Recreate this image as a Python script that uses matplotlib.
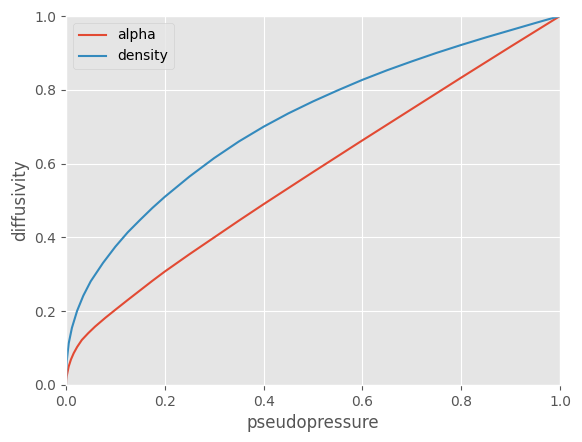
import matplotlib
matplotlib.use("Agg")
import matplotlib.pyplot as plt

plt.style.use("ggplot")

density_x = [0, 0.0004, 0.0015, 0.0055, 0.012, 0.0225, 0.035, 0.05, 0.075, 0.1,
             0.125, 0.15, 0.175, 0.2, 0.25, 0.3, 0.35, 0.4, 0.45, 0.5, 0.55,
             0.6, 0.65, 0.7, 0.75, 0.8, 0.85, 0.9, 0.95, 1.0]
density_y = [0, 0.035, 0.065, 0.113, 0.155, 0.201, 0.242, 0.281, 0.331, 0.375,
             0.4138, 0.4475, 0.48, 0.51, 0.565, 0.615, 0.66, 0.70, 0.736, 0.7685, 0.7985,
             0.827, 0.853, 0.877, 0.900, 0.9215, 0.942, 0.9615, 0.981, 1.0]

alpha_x = [0, 0.0004, 0.0013, 0.0054, 0.01, 0.0155, 0.0225, 0.032, 0.045, 0.059,
           0.08, 0.1, 0.125, 0.15, 0.175, 0.2, 0.25, 0.3, 0.35, 0.4, 0.5,
           0.6, 0.7, 0.8, 0.9, 1.0]
alpha_y = [0, 0.013, 0.023, 0.05, 0.069, 0.086, 0.103, 0.122, 0.1405, 0.1585,
           0.1825, 0.204, 0.2305, 0.2565, 0.2825, 0.3075, 0.3545, 0.40, 0.4455, 0.49, 0.577,
           0.663, 0.748, 0.833, 0.917, 1.0]

fig = plt.figure(figsize=(5.82, 4.42), dpi=100)
ax = fig.add_axes([66/582, (442-385)/442, 494/582, 369/442])
ax.plot(alpha_x, alpha_y, label="alpha")
ax.plot(density_x, density_y, label="density")
ax.set_xlim(0, 1)
ax.set_ylim(0, 1)
ax.set_xlabel("pseudopressure")
ax.set_ylabel("diffusivity")
ax.legend(loc="upper left")
fig.savefig("out.png", dpi=100)
